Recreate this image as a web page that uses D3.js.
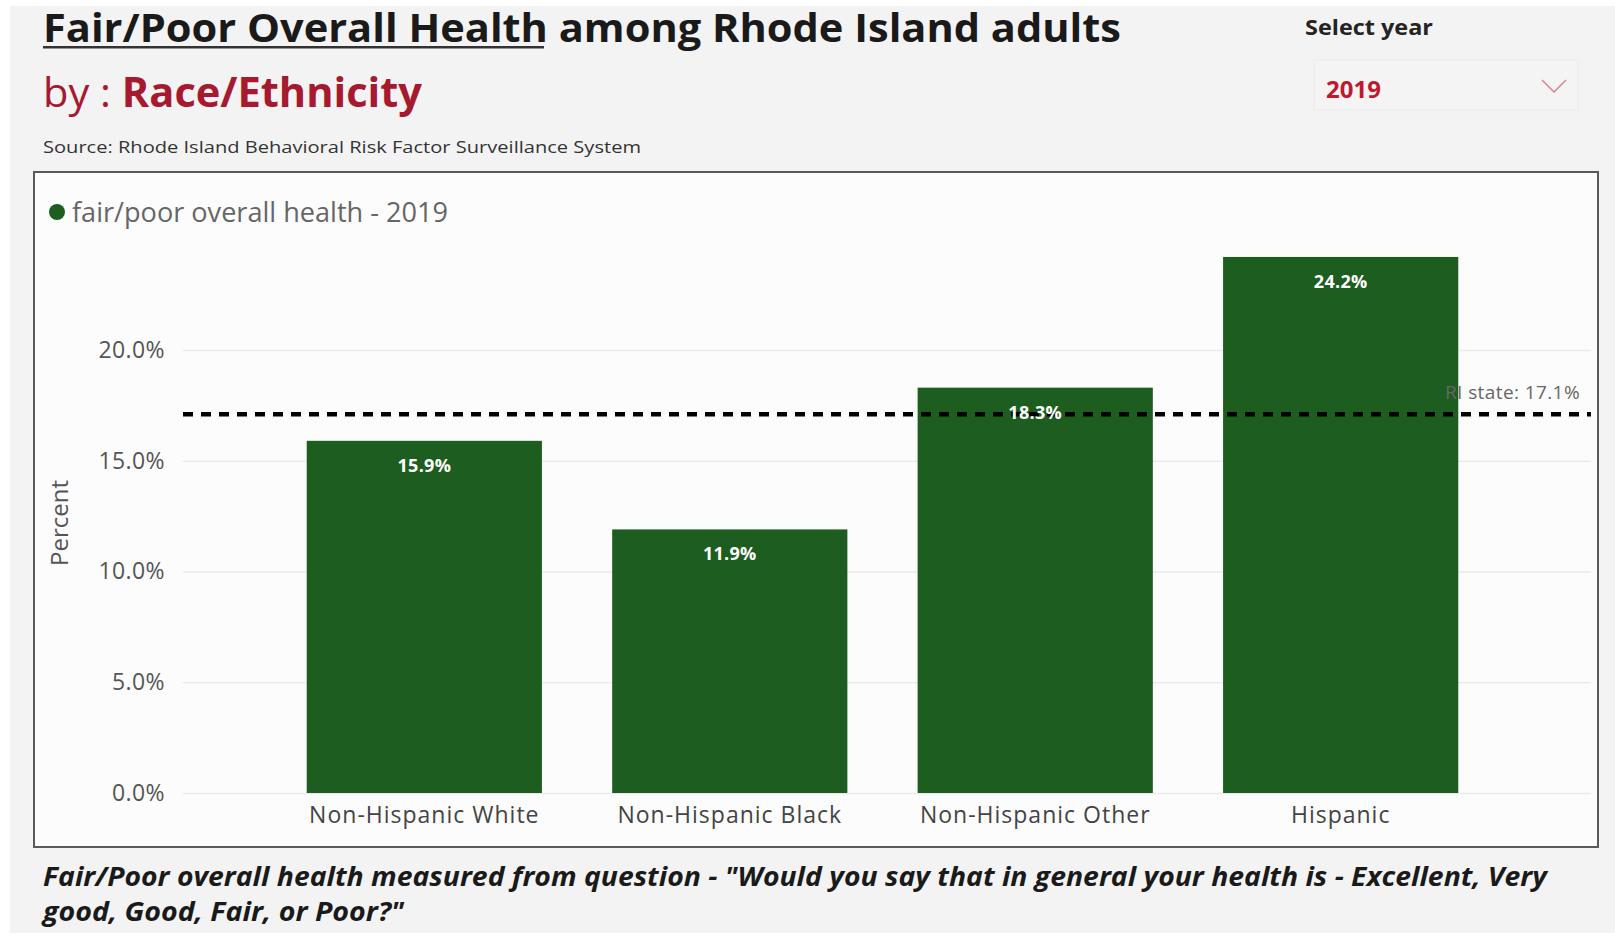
<!DOCTYPE html>
<html>
<head>
<meta charset="utf-8">
<script src="https://cdn.jsdelivr.net/npm/d3@7"></script>
<style>
  html, body { margin: 0; padding: 0; background: #ffffff; }
  svg { display: block; }
  text { font-family: "Segoe UI", "Open Sans", "Noto Sans", sans-serif; }
</style>
</head>
<body>
<div id="chart"></div>
<script>
// data
const categories = ["Non-Hispanic White", "Non-Hispanic Black", "Non-Hispanic Other", "Hispanic"];
const values = [15.9, 11.9, 18.3, 24.2];
const stateValue = 17.1;
const yTicks = [0, 5, 10, 15, 20];
const selectedYear = "2019";

const W = 1615, H = 937;

let svg = d3.select("#chart")
    .append("svg")
    .attr("width", W)
    .attr("height", H);

// page background
svg.append("rect")
    .attr("x", 10).attr("y", 6)
    .attr("width", W - 10).attr("height", 927)
    .attr("fill", "#f3f3f3");

// title
svg.append("text")
    .attr("x", 43).attr("y", 42)
    .attr("textLength", 1078).attr("lengthAdjust", "spacingAndGlyphs")
    .style("font-size", "40px").style("font-weight", 700).attr("fill", "#1a1a1a")
    .text("Fair/Poor Overall Health among Rhode Island adults");
svg.append("rect")
    .attr("x", 43).attr("y", 46).attr("width", 501).attr("height", 2.5)
    .attr("fill", "#333");

let sub = svg.append("text")
    .attr("x", 43).attr("y", 107)
    .attr("textLength", 379).attr("lengthAdjust", "spacingAndGlyphs")
    .style("font-size", "41px").attr("fill", "#a6192e");
sub.append("tspan").style("font-weight", 400).text("by : ");
sub.append("tspan").style("font-weight", 700).text("Race/Ethnicity");

svg.append("text")
    .attr("x", 43).attr("y", 153)
    .attr("textLength", 598).attr("lengthAdjust", "spacingAndGlyphs")
    .style("font-size", "17px").attr("fill", "#333")
    .text("Source: Rhode Island Behavioral Risk Factor Surveillance System");

// year slicer
svg.append("text")
    .attr("x", 1305).attr("y", 35)
    .attr("textLength", 128).attr("lengthAdjust", "spacingAndGlyphs")
    .style("font-size", "21px").style("font-weight", 700).attr("fill", "#252423")
    .text("Select year");
svg.append("rect")
    .attr("x", 1314).attr("y", 60).attr("width", 264).attr("height", 50)
    .attr("fill", "#f4f4f4").attr("stroke", "#ebebeb").attr("stroke-width", 1);
svg.append("text")
    .attr("x", 1326).attr("y", 98)
    .style("font-size", "24px").style("font-weight", 700).attr("fill", "#c0182f")
    .text(selectedYear);
svg.append("path")
    .attr("d", "M1542,80 L1554,92 L1566,80")
    .attr("fill", "none").attr("stroke", "#d9848f").attr("stroke-width", 1.5);

// chart frame
svg.append("rect")
    .attr("x", 34).attr("y", 172).attr("width", 1564).attr("height", 675)
    .attr("fill", "#fcfcfc").attr("stroke", "#5a5a5a").attr("stroke-width", 2);

// legend
svg.append("circle")
    .attr("cx", 57).attr("cy", 212).attr("r", 8)
    .attr("fill", "#1d5d1f");
svg.append("text")
    .attr("x", 72).attr("y", 222)
    .attr("textLength", 376).attr("lengthAdjust", "spacingAndGlyphs")
    .style("font-size", "27px").attr("fill", "#666")
    .text("fair/poor overall health - " + selectedYear);

// scales
const plotLeft = 183, plotRight = 1591;
let y = d3.scaleLinear().domain([0, 25]).range([793, 239.25]);
let x = d3.scaleBand()
    .domain(categories)
    .range([154, 1611])
    .paddingInner(0.23)
    .paddingOuter(0.5);

// y axis with gridlines
let yAxis = svg.append("g")
    .attr("transform", "translate(" + plotLeft + ",0)")
    .call(d3.axisLeft(y)
        .tickValues(yTicks)
        .tickSize(-(plotRight - plotLeft))
        .tickPadding(18)
        .tickFormat(d => d3.format(".1f")(d) + "%"));
yAxis.select(".domain").remove();
yAxis.selectAll(".tick line").attr("stroke", "#ebebeb").attr("stroke-width", 1.5);
yAxis.selectAll(".tick text")
    .style("font-size", "23px").style("letter-spacing", "0.4px").attr("fill", "#555")
    .style("font-family", "'Segoe UI', 'Open Sans', sans-serif");

svg.append("text")
    .attr("transform", "translate(68,523) rotate(-90)")
    .attr("text-anchor", "middle")
    .style("font-size", "24px").attr("fill", "#555")
    .text("Percent");

// bars
svg.append("g")
    .selectAll("rect")
    .data(values)
    .enter()
    .append("rect")
    .attr("x", (d, i) => x(categories[i]))
    .attr("y", d => y(d))
    .attr("width", x.bandwidth())
    .attr("height", d => y(0) - y(d))
    .attr("fill", "#1d5d1f");

// x axis
let xAxis = svg.append("g")
    .attr("transform", "translate(0," + y(0) + ")")
    .call(d3.axisBottom(x).tickSize(0).tickPadding(14));
xAxis.select(".domain").remove();
xAxis.selectAll(".tick text")
    .style("font-size", "23px").style("letter-spacing", "1px").attr("fill", "#444")
    .style("font-family", "'Segoe UI', 'Open Sans', sans-serif");

// state reference line
svg.append("line")
    .attr("x1", plotLeft).attr("x2", plotRight)
    .attr("y1", y(stateValue)).attr("y2", y(stateValue))
    .attr("stroke", "#000").attr("stroke-width", 4.5)
    .attr("stroke-dasharray", "10,8");
svg.append("text")
    .attr("x", 1580).attr("y", y(stateValue) - 15)
    .attr("text-anchor", "end")
    .style("font-size", "19px").style("letter-spacing", "0.4px").attr("fill", "#666")
    .text("RI state: " + d3.format(".1f")(stateValue) + "%");

// value labels
svg.append("g")
    .selectAll("text")
    .data(values)
    .enter()
    .append("text")
    .attr("x", (d, i) => x(categories[i]) + x.bandwidth() / 2)
    .attr("y", d => y(d) + 31)
    .attr("text-anchor", "middle")
    .style("font-size", "18px").style("font-weight", 700).style("letter-spacing", "0.3px")
    .attr("fill", "#fff")
    .text(d => d3.format(".1f")(d) + "%");

// footnote
svg.append("text")
    .attr("x", 43).attr("y", 886)
    .attr("textLength", 1504).attr("lengthAdjust", "spacingAndGlyphs")
    .style("font-size", "27px").style("font-weight", 700).style("font-style", "italic")
    .attr("fill", "#1a1a1a")
    .text("Fair/Poor overall health measured from question - \"Would you say that in general your health is - Excellent, Very");
svg.append("text")
    .attr("x", 43).attr("y", 921)
    .attr("textLength", 361).attr("lengthAdjust", "spacingAndGlyphs")
    .style("font-size", "27px").style("font-weight", 700).style("font-style", "italic")
    .attr("fill", "#1a1a1a")
    .text("good, Good, Fair, or Poor?\"");
</script>
</body>
</html>
